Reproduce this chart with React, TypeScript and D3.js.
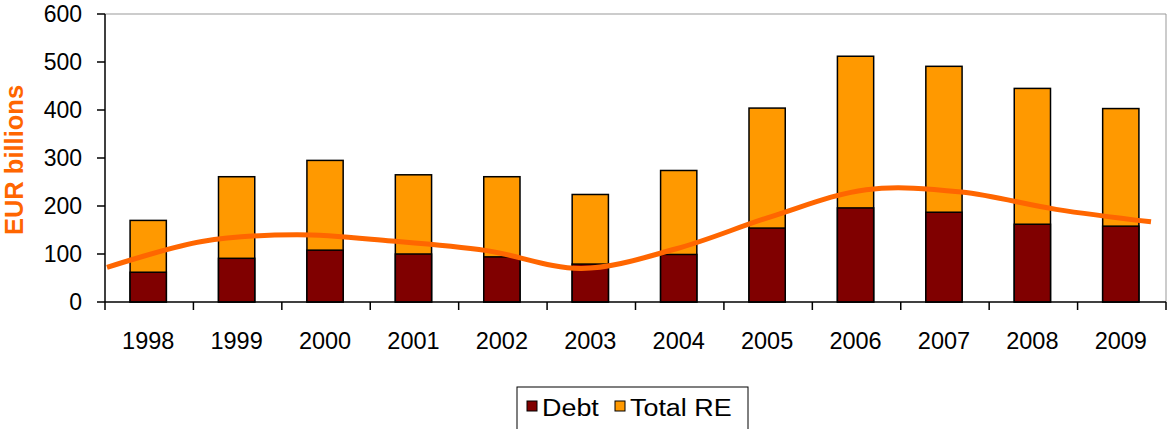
import React from "react";
import * as d3 from "d3";

const years = ["1998", "1999", "2000", "2001", "2002", "2003", "2004", "2005", "2006", "2007", "2008", "2009"];
const totalRE = [170, 261, 295, 265, 261, 224, 274, 404, 512, 491, 445, 403];
const debt = [62, 91, 108, 100, 94, 79, 99, 154, 196, 187, 162, 158];
const trendValues = [72, 126, 140, 127, 107, 70, 111, 178, 234, 229, 193, 167];
const yTicks = [0, 100, 200, 300, 400, 500, 600];
const legendItems = [
  { label: "Debt", color: "#800000" },
  { label: "Total RE", color: "#FF9900" },
];

const W = 1167;
const H = 429;
const left = 105;
const right = 1166;
const top = 14;
const bottom = 302;

const FONT = "'Liberation Sans', Arial, Helvetica, sans-serif";

export default function App() {
  const x = d3.scaleBand<string>().domain(years).range([left, right]).paddingInner(0).paddingOuter(0);
  const y = d3.scaleLinear().domain([0, 600]).range([bottom, top]);
  const xLine = d3.scaleLinear().domain([0, trendValues.length - 1]).range([left + 2, right - 15]);
  const bw = x.bandwidth() * 0.41;

  const line = d3
    .line<number>()
    .x((_, i) => xLine(i))
    .y((d) => y(d))
    .curve(d3.curveCatmullRom.alpha(0.5));

  const tickXs = d3.range(years.length + 1).map((i) => left + i * x.bandwidth());
  const legendX = [527, 615];

  return (
    <svg width={W} height={H} style={{ position: "absolute", left: 0, top: 0, background: "#fff" }} fontFamily={FONT}>
      {/* plot frame: top & right gray */}
      <line x1={left} x2={right} y1={top} y2={top} stroke="#999" strokeWidth={1} />
      <line x1={right} x2={right} y1={top} y2={bottom} stroke="#999" strokeWidth={1} />

      {/* bars */}
      {years.map((yr, i) => {
        const cx = x(yr)! + x.bandwidth() / 2 - 1;
        return (
          <g key={yr}>
            <rect x={cx - bw / 2} y={y(totalRE[i])} width={bw} height={y(0) - y(totalRE[i])} fill="#FF9900" stroke="#000" strokeWidth={1.5} />
            <rect x={cx - bw / 2} y={y(debt[i])} width={bw} height={y(0) - y(debt[i])} fill="#800000" stroke="#000" strokeWidth={1.5} />
          </g>
        );
      })}

      {/* trend line */}
      <path d={line(trendValues) || ""} fill="none" stroke="#FF6600" strokeWidth={5} />

      {/* axes */}
      <line x1={left} x2={left} y1={top} y2={bottom} stroke="#000" strokeWidth={1.5} />
      <line x1={left} x2={right} y1={bottom} y2={bottom} stroke="#000" strokeWidth={1.5} />
      {yTicks.map((t) => (
        <g key={t}>
          <line x1={left - 8} x2={left} y1={y(t)} y2={y(t)} stroke="#000" strokeWidth={1.5} />
          <text x={82} y={y(t)} dy="0.35em" textAnchor="end" fontSize={23} fill="#000">
            {t}
          </text>
        </g>
      ))}
      {tickXs.map((tx, i) => (
        <line key={i} x1={tx} x2={tx} y1={bottom} y2={bottom + 8} stroke="#000" strokeWidth={1.5} />
      ))}
      {years.map((yr) => (
        <text key={yr} x={x(yr)! + x.bandwidth() / 2 - 1} y={349} textAnchor="middle" fontSize={23.5} fill="#000">
          {yr}
        </text>
      ))}

      {/* y axis title */}
      <text
        transform={`translate(23, ${(top + bottom) / 2 + 2}) rotate(-90)`}
        textAnchor="middle"
        fontSize={25.5}
        fontWeight="bold"
        fill="#FF6600"
      >
        EUR billions
      </text>

      {/* legend */}
      <rect x={517} y={387} width={231} height={60} fill="#fff" stroke="#000" strokeWidth={1} />
      {legendItems.map((it, i) => (
        <g key={it.label}>
          <rect x={legendX[i]} y={401} width={10} height={10} fill={it.color} stroke="#000" strokeWidth={1} />
          <text transform={`translate(${legendX[i] + 15}, 416) scale(1.17, 1)`} fontSize={23} fill="#000">
            {it.label}
          </text>
        </g>
      ))}
    </svg>
  );
}
